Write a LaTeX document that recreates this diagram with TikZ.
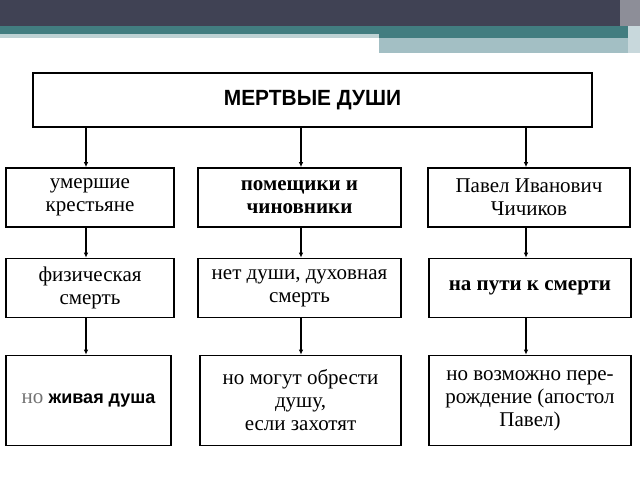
\documentclass[tikz,border=0pt]{standalone}
\usepackage{fontspec}
\setmainfont{Liberation Serif}
\newfontfamily\headfont{Liberation Sans}
\usetikzlibrary{arrows.meta}

\definecolor{slatedark}{RGB}{64,66,84}
\definecolor{tealband}{RGB}{66,125,128}
\definecolor{tealpale}{RGB}{163,191,196}
\definecolor{tealstrip}{RGB}{190,210,212}

\begin{document}
\begin{tikzpicture}[x=1pt, y=-1pt]

\useasboundingbox (0,0) rectangle (640,480);

%% styles for the boxes and links
\tikzstyle{box}=[rectangle, draw=black, line width=1.6pt, fill=white, align=center, inner sep=0pt, font=\fontsize{21}{23}\selectfont]
\tikzstyle{top box}=[box, minimum width=559pt, minimum height=54pt]
\tikzstyle{row box}=[box, minimum height=59pt]
\tikzstyle{low box}=[box, minimum height=90pt]
\tikzstyle{link}=[line width=1.2pt, -{Latex[length=5pt,width=4.5pt]}]

%% header bands
\fill[slatedark] (0,0) rectangle (640,26);
\fill[tealband] (0,26) rectangle (640,34);
\fill[tealstrip] (0,34) rectangle (379,38);
\fill[tealband] (379,34) rectangle (628,38);
\fill[tealpale] (379,38) rectangle (628,53);
\fill[slatedark!60] (620,0) rectangle (640,26);
\fill[tealpale!60] (628,26) rectangle (640,53);

%% coordinate grid
\def \xa {90}
\def \xb {299.5}
\def \xc {529}
\def \wa {168}
\def \wb {203}
\def \wc {202}
\def \yone {197.5}
\def \ytwo {288}
\def \ythree {400.5}

% main box
\node[top box] (main) at (312.5,100) {\headfont\bfseries\fontsize{22}{24}\selectfont\scalebox{0.95}[1]{МЕРТВЫЕ ДУШИ}};

% first row
\node[row box, minimum width=\wa] (R1-1) at (\xa,\yone) {умершие\\крестьяне};
\node[row box, minimum width=\wb] (R1-2) at (\xb,\yone) {\bfseries помещики и\\ \bfseries чиновники};
\node[row box, minimum width=\wc] (R1-3) at (\xc,\yone) {Павел Иванович\\Чичиков};

% second row
\node[row box, minimum width=\wa] (R2-1) at (\xa,\ytwo) {физическая\\смерть};
\node[row box, minimum width=\wb] (R2-2) at (\xb,\ytwo) {нет души, духовная\\смерть};
\node[row box, minimum width=\wc] (R2-3) at (\xc+1,\ytwo) {\bfseries на пути к смерти};

% third row
\node[low box, minimum width=165] (R3-1) at (88.5,\ythree) {{\color{black!55}но} {\headfont\bfseries\fontsize{18}{20}\selectfont живая душа}};
\node[low box, minimum width=201] (R3-2) at (300.5,\ythree) {но могут обрести\\душу,\\если захотят};
\node[low box, minimum width=202] (R3-3) at (530,\ythree) {но возможно пере-\\рождение (апостол\\Павел)};

%% links, kept straight down from the first row
\foreach \col/\dx in {1/-4,2/1.5,3/-3}{
\draw[link] ([xshift=\dx]R1-\col.north |- main.south) -- ([xshift=\dx]R1-\col.north);
\draw[link] ([xshift=\dx]R1-\col.south) -- ([xshift=\dx]R1-\col.south |- R2-\col.north);
\draw[link] ([xshift=\dx]R1-\col.south |- R2-\col.south) -- ([xshift=\dx]R1-\col.south |- R3-\col.north);
}

\end{tikzpicture}
\end{document}
